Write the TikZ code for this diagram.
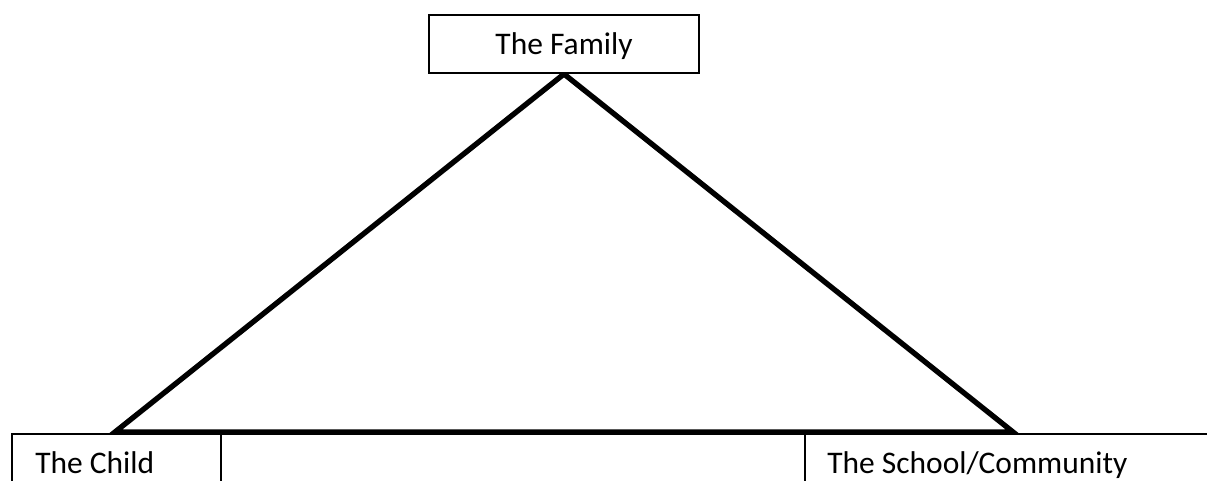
\documentclass[tikz,border=0pt]{standalone}
\usepackage{fontspec}
\setmainfont{Carlito}
\begin{document}
\begin{tikzpicture}[x=0.75pt,y=-0.75pt,
  box/.style={draw=black, line width=1.2pt, inner sep=0pt},
  tri/.style={draw=black, line width=4pt, line join=miter},
  lbl/.style={font=\fontsize{23.6}{28}\selectfont, inner sep=0pt}]
\clip (0,0) rectangle (1207,481);
% bottom boxes (extend beyond the lower edge)
\node[box, minimum width=156.75pt, minimum height=64.5pt] (child) at (116.5,477) {};
\node[box, minimum width=438pt, minimum height=64.5pt] (middle) at (513,477) {};
\node[box, minimum width=318.75pt, minimum height=64.5pt] (school) at (1017.5,477) {};
% triangle
\coordinate (A) at (115,432);
\coordinate (B) at (1013,432);
\coordinate (apex) at (564,74);
\draw[tri] (apex) -- (A) -- (B) -- cycle;
% top box
\node[box, fill=white, minimum width=202.5pt, minimum height=43.5pt] (family) at (564,44) {};
\node[lbl, anchor=base] (familytext) at (564,55) {The Family};
\node[lbl, anchor=base west] (childtext) at (35,473) {The Child};
\node[lbl, anchor=base west] (schooltext) at (827,473) {The School/Community};
\end{tikzpicture}
\end{document}
